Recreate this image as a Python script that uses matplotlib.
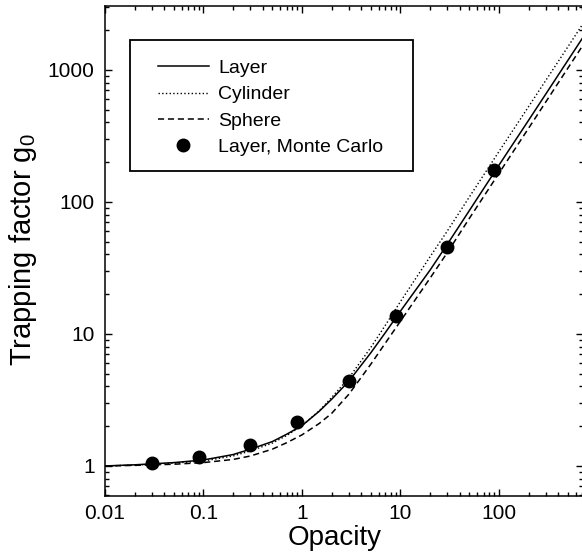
import matplotlib
matplotlib.use("Agg")
import matplotlib.pyplot as plt
from matplotlib.patches import Rectangle
from matplotlib.ticker import FixedLocator, LogLocator, NullFormatter, FixedFormatter

plt.rcParams['font.family'] = ['Liberation Sans', 'DejaVu Sans']

# opacity grid
opacity = [0.01, 0.02, 0.05, 0.1, 0.2, 0.3, 0.5, 0.7, 1, 1.5, 2, 3, 5, 7,
           10, 20, 30, 50, 100, 200, 500, 700]
layer = [1.00, 1.02, 1.06, 1.11, 1.22, 1.34, 1.53, 1.74, 2.02, 2.6, 3.2, 4.4,
         7.2, 10.2, 14.9, 30.5, 48, 86, 190, 416, 1180, 1730]
cylinder = [1.00, 1.015, 1.05, 1.09, 1.19, 1.30, 1.49, 1.70, 2.02, 2.62, 3.3,
            4.65, 7.9, 11.6, 17.6, 38.5, 60.5, 109, 241, 528, 1495, 2195]
sphere = [1.00, 1.01, 1.03, 1.06, 1.12, 1.19, 1.34, 1.5, 1.72, 2.1, 2.5, 3.5,
          5.9, 8.5, 12.5, 26.5, 41.5, 75, 165, 362, 1030, 1510]

# Monte Carlo points for the layer
mc_opacity = [0.03, 0.09, 0.3, 0.9, 3, 9, 30, 90]
mc_g0 = [1.06, 1.16, 1.43, 2.16, 4.4, 13.7, 45.9, 175]

xticks = [0.01, 0.1, 1, 10, 100]
xticklabels = ['0.01', '0.1', '1', '10', '100']
yticks = [1, 10, 100, 1000]
yticklabels = ['1', '10', '100', '1000']

fig = plt.figure(figsize=(5.82, 5.57), dpi=100)
ax = fig.add_axes([105/582, 1 - 496/557, 478/582, 490/557])

ax.plot(opacity, layer, '-', color='black', lw=1.1, label='Layer')
ax.plot(opacity, cylinder, ':', color='black', lw=1.0, label='Cylinder')
ax.plot(opacity, sphere, '--', color='black', lw=1.1, dashes=(4, 2.5), label='Sphere')
ax.plot(mc_opacity, mc_g0, 'o', color='black', ms=9, label='Layer, Monte Carlo')

ax.set_xscale('log')
ax.set_yscale('log')
ax.set_xlim(0.01, 713)
ax.set_ylim(0.592, 3050)

ax.xaxis.set_major_locator(FixedLocator(xticks))
ax.xaxis.set_major_formatter(FixedFormatter(xticklabels))
ax.yaxis.set_major_locator(FixedLocator(yticks))
ax.yaxis.set_major_formatter(FixedFormatter(yticklabels))
ax.xaxis.set_minor_locator(LogLocator(base=10, subs=range(2, 10), numticks=20))
ax.yaxis.set_minor_locator(LogLocator(base=10, subs=range(2, 10), numticks=20))
ax.xaxis.set_minor_formatter(NullFormatter())
ax.yaxis.set_minor_formatter(NullFormatter())

ax.tick_params(which='both', direction='in', top=True, right=True, width=1.0)
ax.tick_params(which='major', length=5, labelsize=15, pad=6)
ax.tick_params(axis='y', which='major', pad=7.4)
ax.tick_params(which='minor', length=3)
for s in ax.spines.values():
    s.set_linewidth(1.1)

ax.set_xlabel('Opacity', fontsize=20)
ax.set_ylabel(r'Trapping factor $\mathregular{g_0}$', fontsize=21)
ax.xaxis.set_label_coords((334.5 - 105) / 478, -0.059)
ax.yaxis.set_label_coords(-0.138, 0.502)

# legend box drawn by hand, entries placed inside it
ax.add_patch(Rectangle((25 / 478, 325 / 490), 283 / 478, 131 / 490,
                       transform=ax.transAxes, fill=False, edgecolor='black',
                       lw=1.3, zorder=5))
leg = ax.legend(loc='upper left', bbox_to_anchor=(53 / 478, (496 - 59.5) / 490),
                borderaxespad=0, borderpad=0, fontsize=14, frameon=False,
                handlelength=2.6, handletextpad=0.5, labelspacing=0.45)

fig.savefig('out.png', dpi=100)
